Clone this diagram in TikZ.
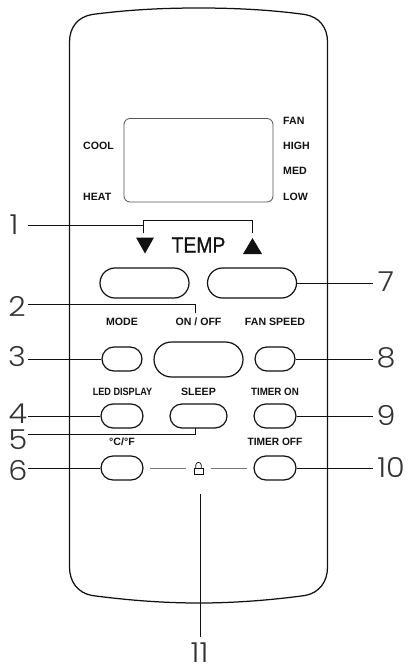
\documentclass[tikz,border=0pt]{standalone}
\usepackage{fontspec}
\setmainfont{Liberation Sans}
\setsansfont{Liberation Sans}
\newfontfamily\numfont[UprightFont=* Light]{Poppins}
\newfontfamily\tempfont[FakeBold=0.8]{Liberation Sans}
\usetikzlibrary{shapes.misc}
\definecolor{ink}{HTML}{111111}
\definecolor{num}{HTML}{333333}
\definecolor{mid}{HTML}{777777}
\tikzset{
  keybtn/.style={rounded rectangle, draw=ink, line width=1.2pt, inner sep=0pt, minimum height=24pt, minimum width=40pt},
  widebtn/.style={keybtn, minimum height=30pt, minimum width=89pt},
  keytxt/.style={font=\sffamily\bfseries\fontsize{10.6}{11}\selectfont, inner sep=0pt, ink},
  numtxt/.style={font=\numfont\fontsize{27.5}{28}\selectfont, xscale=1.1, inner sep=0pt, num},
  lead/.style={ink, line width=0.9pt}
}
\begin{document}
\begin{tikzpicture}[x=1pt, y=-1pt, font=\sffamily]
  \useasboundingbox (0,0) rectangle (407,668);

  % Body
  \draw[ink, line width=1.25pt] (69.5,42)
    .. controls (69.5,27) and (78,17) .. (92,14.5)
    .. controls (130,9.5) and (165,8) .. (198.5,8)
    .. controls (232,8) and (268,9.5) .. (305,14.5)
    .. controls (319,17) and (327.5,27) .. (327.5,42)
    -- (327.5,567)
    .. controls (327.5,582) and (319,593) .. (305,595.5)
    .. controls (268,600.5) and (232,603) .. (199,603)
    .. controls (165,603) and (130,600.5) .. (92,595.5)
    .. controls (78,593) and (69.5,582) .. (69.5,567)
    -- cycle;

  % Screen
  \draw[mid!70!black, line width=0.8pt, rounded corners=6pt] (124,118.5) rectangle (273,202);
  \node[keytxt, anchor=west] (cool) at (83,146) {COOL};
  \node[keytxt, anchor=west] (heat) at (83,197) {HEAT};
  \node[keytxt, anchor=west] (fan) at (283,121) {FAN};
  \node[keytxt, anchor=west] (high) at (283,146) {HIGH};
  \node[keytxt, anchor=west] (med) at (283,171) {MED};
  \node[keytxt, anchor=west] (low) at (283,197) {LOW};

  % Temp
  \fill[ink] (136,237.5) -- (154,237.5) -- (145,253.5) -- cycle;
  \fill[ink] (243,254) -- (262,254) -- (252.5,238) -- cycle;
  \node[inner sep=0pt, ink, xscale=0.88, font=\tempfont\fontsize{22}{22}\selectfont] (temp) at (198.5,245) {TEMP};

  % Keys
  \node[widebtn] (tempdown) at (144.5,283) {};
  \node[widebtn] (tempup) at (252,283) {};
  \node[keybtn] (mode) at (122,359) {};
  \node[widebtn, minimum height=35pt] (onoff) at (198.5,359.5) {};
  \node[keybtn] (fanspeed) at (275,359) {};
  \node[keybtn, minimum width=42pt] (led) at (122,416) {};
  \node[keybtn, minimum width=57pt] (sleep) at (198.5,416) {};
  \node[keybtn, minimum width=42pt] (timeron) at (275,416) {};
  \node[keybtn, minimum width=42pt] (unit) at (122,468) {};
  \node[keybtn, minimum width=42pt] (timeroff) at (275,468) {};

  % Key labels
  \node[keytxt] (modetxt) at (122,322) {MODE};
  \node[keytxt] (onofftxt) at (198.5,322) {ON / OFF};
  \node[keytxt] (fanspeedtxt) at (275,322) {FAN SPEED};
  \node[keytxt, xscale=0.86] (ledtxt) at (122.5,392) {LED DISPLAY};
  \node[keytxt] (sleeptxt) at (198.5,392) {SLEEP};
  \node[keytxt, xscale=0.92] (timerontxt) at (275,392) {TIMER ON};
  \node[keytxt] (unittxt) at (122,442) {°C/°F};
  \node[keytxt, xscale=0.96] (timerofftxt) at (275,442) {TIMER OFF};

  % Lock
  \coordinate (lockl) at (150,468.7);
  \coordinate (lockr) at (247,468.7);
  \draw[mid, line width=0.8pt] (lockl) -- (186,468.7) (211,468.7) -- (lockr);
  \draw[ink, line width=0.7pt] (194,468.5) rectangle (203,474);
  \draw[ink, line width=0.7pt] (195.8,468.5) -- (195.8,465) .. controls (195.8,461.5) and (201.2,461.5) .. (201.2,465) -- (201.2,468.5);

  % Numbers
  \node[numtxt] (n1) at (14,225) {1};
  \node[numtxt] (n2) at (17,306) {2};
  \node[numtxt] (n3) at (17,357) {3};
  \node[numtxt] (n4) at (18,414) {4};
  \node[numtxt] (n5) at (18,439.5) {5};
  \node[numtxt] (n6) at (18,470) {6};
  \node[numtxt] (n7) at (386,282) {7};
  \node[numtxt] (n8) at (386,358) {8};
  \node[numtxt] (n9) at (386,415) {9};
  \node[numtxt] (n10) at (391,468) {10};
  \node[numtxt] (n11) at (199.5,652.5) {11};

  % Leaders
  \coordinate (lead1) at (28,225);
  \coordinate (lead2) at (28,304);
  \coordinate (lead5) at (28,434.3);
  \coordinate (bdown) at (143.5,233);
  \coordinate (bup) at (252,233);
  \coordinate (lead11a) at (200,494);
  \coordinate (lead11b) at (200,637);
  \draw[lead] (bdown) -- (143.5,220) -| (bup);
  \draw[lead] (lead1) -- (lead1 -| bdown);
  \draw[lead] (lead2) -| (195,313);
  \draw[lead] (lead5) -| (195,428);
  \draw[lead] (28,359) -- (mode.west);
  \draw[lead] (28,416) -- (led.west);
  \draw[lead] (28,468) -- (unit.west);
  \draw[lead] (tempup.east) -- (373,283);
  \draw[lead] (fanspeed.east) -- (373,359);
  \draw[lead] (timeron.east) -- (373,416);
  \draw[lead] (timeroff.east) -- (373,468);
  \draw[lead] (lead11a) -- (lead11b);
\end{tikzpicture}
\end{document}
